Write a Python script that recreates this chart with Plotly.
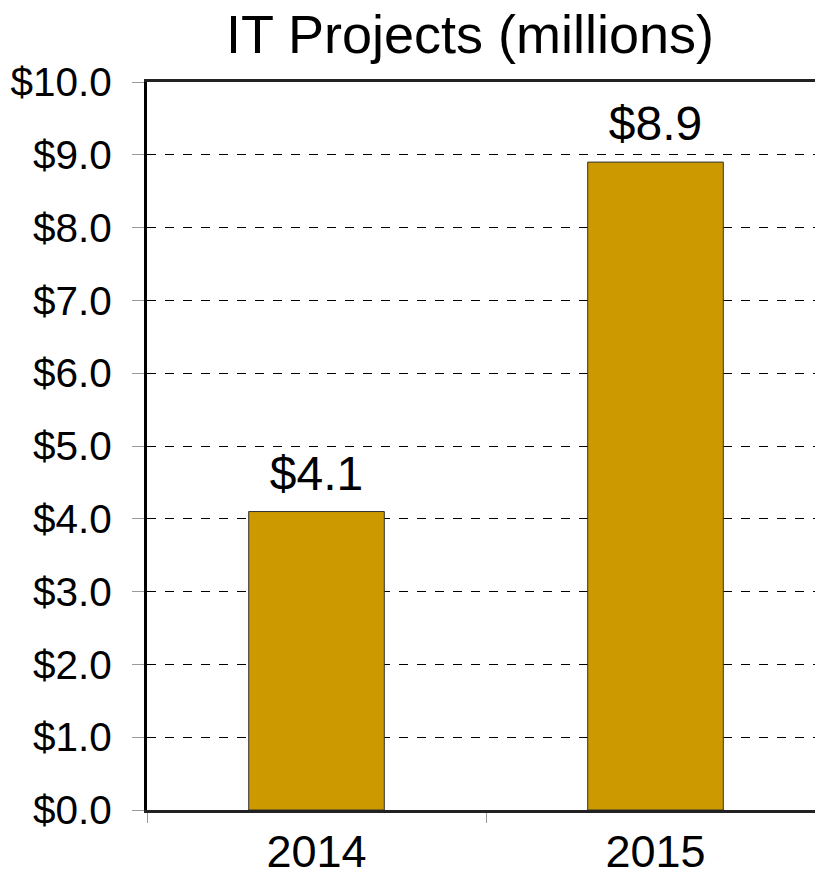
import plotly.graph_objects as go

years = ["2014", "2015"]
values = [4.1, 8.9]
labels = ["$4.1", "$8.9"]
y_ticks = [0, 1, 2, 3, 4, 5, 6, 7, 8, 9, 10]

fig = go.Figure()
fig.add_trace(go.Bar(
    x=years, y=values,
    marker=dict(color="#CC9900", line=dict(color="#333333", width=1)),
    width=0.4, hoverinfo="skip",
))
fig.add_trace(go.Scatter(
    x=years, y=values, text=labels, mode="markers+text", textposition="top center",
    marker=dict(size=14, color="rgba(0,0,0,0)"),
    textfont=dict(size=48, color="black"), cliponaxis=False, hoverinfo="skip",
))

fig.update_layout(
    width=823, height=882,
    margin=dict(l=139, r=6, t=74, b=80),
    paper_bgcolor="white", plot_bgcolor="white",
    font=dict(family="Liberation Sans, Arial, sans-serif", color="black"),
    title=dict(text="IT Projects (millions)", font=dict(size=54, color="black"),
               x=462/823, xanchor="center", xref="container",
               y=1 - 26/882, yanchor="middle", yref="container"),
    showlegend=False,
)
fig.update_xaxes(
    type="category", automargin=False,
    showline=True, linecolor="#222222", linewidth=3, mirror=True,
    ticks="outside", tickson="boundaries", ticklen=10, tickcolor="#999999", tickwidth=1,
    tickfont=dict(size=45), showgrid=False, range=[-0.5, 1.5],
)
fig.update_yaxes(
    range=[0, 10], tickvals=y_ticks, tickformat="$.1f", automargin=False,
    showline=True, linecolor="black", linewidth=3,
    ticks="outside", ticklen=12, tickcolor="#999999", tickwidth=1,
    tickfont=dict(size=40.5), ticklabelstandoff=12,
    showgrid=True, gridcolor="black", gridwidth=1, griddash="dash",
    zeroline=False,
)
fig.write_html("out.html")
